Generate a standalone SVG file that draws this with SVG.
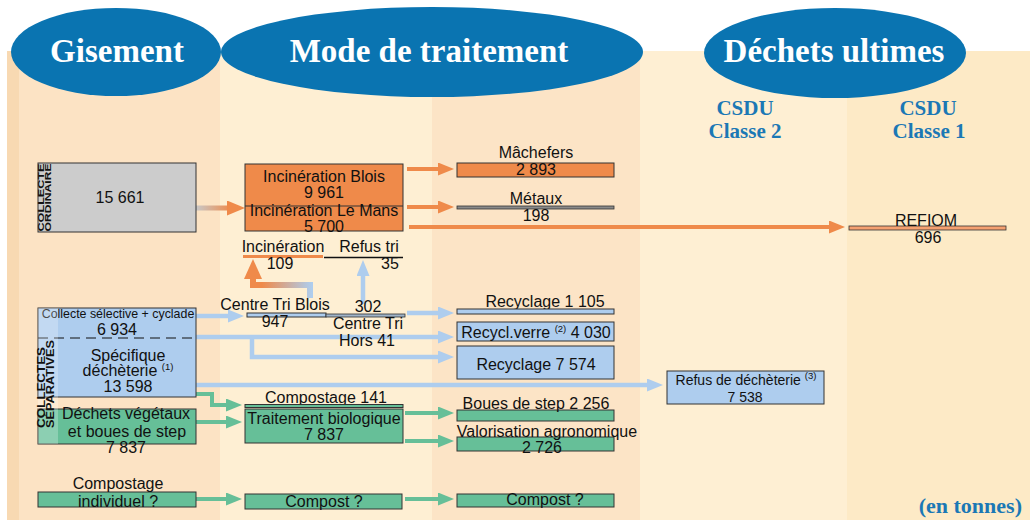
<svg xmlns="http://www.w3.org/2000/svg" width="1030" height="520" viewBox="0 0 1030 520">
<style>
.t{font-family:"Liberation Sans",Arial,sans-serif;font-size:16px;fill:#111;text-anchor:middle}
.s{font-size:9.5px}
.title{font-family:"Liberation Serif","Times New Roman",serif;font-weight:bold;font-size:33px;fill:#fff;text-anchor:middle}
.csdu{font-family:"Liberation Serif","Times New Roman",serif;font-weight:bold;font-size:21px;fill:#1b78b5;text-anchor:middle}
.vl{font-family:"Liberation Sans",Arial,sans-serif;font-weight:bold;fill:#111}
.bo{stroke:#333;stroke-width:1}
.or{fill:#ef8a4a}.bl{fill:#aecdee}.gr{fill:#66bf98}.gy{fill:#cccccc}
.co{fill:none;stroke:#ef8a4a;stroke-width:4}
.cb{fill:none;stroke:#aecdee;stroke-width:4.5}
.cg{fill:none;stroke:#66bf98;stroke-width:4}
</style>
<defs>
<marker id="mo" markerUnits="userSpaceOnUse" markerWidth="16" markerHeight="13" refX="1" refY="6.5" orient="auto"><path d="M0,0 L16,6.5 L0,13 Z" fill="#ef8a4a"/></marker>
<marker id="mo2" markerUnits="userSpaceOnUse" markerWidth="18" markerHeight="15" refX="1" refY="7.5" orient="auto"><path d="M0,0 L18,7.5 L0,15 Z" fill="#ef8a4a"/></marker>
<marker id="mo3" markerUnits="userSpaceOnUse" markerWidth="20" markerHeight="18" refX="1" refY="9" orient="auto"><path d="M0,0 L20,9 L0,18 Z" fill="#ef8a4a"/></marker>
<marker id="mb" markerUnits="userSpaceOnUse" markerWidth="16" markerHeight="13" refX="1" refY="6.5" orient="auto"><path d="M0,0 L16,6.5 L0,13 Z" fill="#aecdee"/></marker>
<marker id="mg" markerUnits="userSpaceOnUse" markerWidth="16" markerHeight="13" refX="1" refY="6.5" orient="auto"><path d="M0,0 L16,6.5 L0,13 Z" fill="#66bf98"/></marker>
<linearGradient id="gGO" gradientUnits="userSpaceOnUse" x1="196" y1="0" x2="232" y2="0"><stop offset="0" stop-color="#c8c8c8"/><stop offset="1" stop-color="#ef8a4a"/></linearGradient>
<linearGradient id="gOB" gradientUnits="userSpaceOnUse" x1="253" y1="0" x2="312" y2="0"><stop offset="0" stop-color="#ef8a4a"/><stop offset="0.15" stop-color="#ef8a4a"/><stop offset="1" stop-color="#aecdee"/></linearGradient>
</defs>

<g id="background">
<rect x="0" y="0" width="1030" height="520" fill="#ffffff"/>
<rect x="7" y="51" width="12" height="469" fill="#f8d9b2"/>
<rect x="19" y="51" width="201" height="469" fill="#fce3c4"/>
<rect x="220" y="51" width="212" height="469" fill="#feefd3"/>
<rect x="432" y="51" width="208" height="469" fill="#fce4c6"/>
<rect x="640" y="51" width="207" height="469" fill="#feefd3"/>
<rect x="847" y="51" width="183" height="469" fill="#fdeac6"/>
</g>

<g id="headers">
<ellipse cx="116" cy="52" rx="105" ry="44" fill="#0a74b1"/>
<ellipse cx="432" cy="52" rx="211" ry="45" fill="#0a74b1"/>
<ellipse cx="835" cy="53" rx="131" ry="45" fill="#0a74b1"/>
<text class="title" x="117" y="62">Gisement</text>
<text class="title" x="429" y="62">Mode de traitement</text>
<text class="title" x="834" y="62">Déchets ultimes</text>
<text class="csdu" x="745" y="115">CSDU</text>
<text class="csdu" x="745" y="138">Classe 2</text>
<text class="csdu" x="928" y="115">CSDU</text>
<text class="csdu" x="929" y="138">Classe 1</text>
<text class="csdu" x="1022" y="513" style="text-anchor:end;font-size:22px">(en tonnes)</text>
</g>

<g id="connectors">
<path d="M196,208 L228,208" fill="none" stroke="url(#gGO)" stroke-width="5" marker-end="url(#mo2)"/>
<path class="co" d="M407,169 L439,169" marker-end="url(#mo)"/>
<path class="co" d="M407,207 L439,207" marker-end="url(#mo)"/>
<path class="co" d="M409,227 L830,227" marker-end="url(#mo)"/>
<path class="cb" d="M196,316 L229,316" marker-end="url(#mb)"/>
<path d="M310,298 L310,285 L253,285 L253,278" fill="none" stroke="url(#gOB)" stroke-width="6" marker-end="url(#mo3)"/>
<path class="cb" d="M363,304 L363,275" stroke-width="5" marker-end="url(#mb)"/>
<path class="cb" d="M407,313 L439,313" marker-end="url(#mb)"/>
<path class="cb" d="M196,337 L439,337" marker-end="url(#mb)"/>
<path class="cb" d="M252,337 L252,357 L439,357" marker-end="url(#mb)"/>
<path class="cb" d="M196,385 L648,385" marker-end="url(#mb)"/>
<path class="cg" d="M196,394 L212,394 L212,405 L227,405" marker-end="url(#mg)"/>
<path class="cg" d="M196,422 L227,422" marker-end="url(#mg)"/>
<path class="cg" d="M405,413 L439,413" marker-end="url(#mg)"/>
<path class="cg" d="M405,441 L439,441" marker-end="url(#mg)"/>
<path class="cg" d="M196,499 L227,499" marker-end="url(#mg)"/>
<path class="cg" d="M405,499 L439,499" marker-end="url(#mg)"/>
</g>

<g id="collecte-ordinaire">
<rect class="gy bo" x="38" y="163" width="158" height="69"/>
<text class="vl" font-size="8.5" transform="translate(44,197.5) rotate(-90)" text-anchor="middle" textLength="68" lengthAdjust="spacingAndGlyphs">COLLECTE</text>
<text class="vl" font-size="8.5" transform="translate(50.5,197.5) rotate(-90)" text-anchor="middle" textLength="68" lengthAdjust="spacingAndGlyphs">ORDINAIRE</text>
<text class="t" x="120" y="203">15 661</text>
</g>

<g id="incineration">
<rect class="or bo" x="245" y="164" width="158" height="67"/>
<line x1="245" y1="206" x2="403" y2="206" stroke="#333" stroke-width="1"/>
<text class="t" x="324" y="182">Incinération Blois</text>
<text class="t" x="324" y="198">9 961</text>
<text class="t" x="324" y="216">Incinération Le Mans</text>
<text class="t" x="324" y="232">5 700</text>
</g>

<g id="machefers">
<text class="t" x="536" y="158">Mâchefers</text>
<rect class="or bo" x="457" y="163" width="157" height="14"/>
<text class="t" x="536" y="175">2 893</text>
</g>

<g id="metaux">
<text class="t" x="536" y="204">Métaux</text>
<rect x="457" y="206" width="157" height="3" fill="#8a8a8a" stroke="#333" stroke-width="0.8"/>
<text class="t" x="536" y="221">198</text>
</g>

<g id="refiom">
<rect x="849" y="226" width="157" height="4" fill="#f5a070" stroke="#333" stroke-width="0.8"/>
<text class="t" x="926" y="226">REFIOM</text>
<text class="t" x="928" y="243">696</text>
</g>

<g id="incineration-109">
<text class="t" x="283" y="252">Incinération</text>
<line x1="243" y1="256.5" x2="323" y2="256.5" stroke="#ef8a4a" stroke-width="3"/>
<text class="t" x="280" y="269">109</text>
</g>

<g id="refus-tri">
<text class="t" x="369" y="252">Refus tri</text>
<line x1="324" y1="257.5" x2="403" y2="257.5" stroke="#111" stroke-width="1.5"/>
<text class="t" x="390" y="269">35</text>
</g>

<g id="centre-tri-blois">
<text class="t" x="275" y="310">Centre Tri Blois</text>
<rect class="bl bo" x="247" y="313" width="79" height="4"/>
<text class="t" x="275" y="327">947</text>
</g>

<g id="centre-tri-hors">
<text class="t" x="368" y="312">302</text>
<rect x="326" y="314" width="79" height="3" fill="#9fb3c8" stroke="#333" stroke-width="0.8"/>
<text class="t" x="368" y="329">Centre Tri</text>
<text class="t" x="367" y="346">Hors 41</text>
</g>

<g id="collectes-separatives">
<rect class="bl bo" x="38" y="308" width="158" height="89"/>
<line x1="38" y1="338" x2="196" y2="338" stroke="#111" stroke-width="1" stroke-dasharray="10,6"/>
<text class="t" x="118" y="318" style="font-size:12.4px">Collecte sélective + cyclade</text>
<text class="t" x="117" y="335">6 934</text>
<text class="t" x="128" y="361">Spécifique</text>
<text class="t" x="128" y="376">déchèterie <tspan class="s" dy="-6">(1)</tspan></text>
<text class="t" x="128" y="392">13 598</text>
</g>

<g id="dechets-vegetaux">
<rect class="gr bo" x="38" y="409" width="158" height="35"/>
<text class="t" x="126" y="419">Déchets végétaux</text>
<text class="t" x="127" y="437">et boues de step</text>
<text class="t" x="126" y="453">7 837</text>
</g>

<g id="label-separatives">
<rect x="38" y="308" width="20" height="136" fill="#ffffff" fill-opacity="0.25"/>
<text class="vl" font-size="10.5" transform="translate(45,428) rotate(-90)" textLength="81" lengthAdjust="spacingAndGlyphs">COLLECTES</text>
<text class="vl" font-size="10.5" transform="translate(54,428) rotate(-90)" textLength="88" lengthAdjust="spacingAndGlyphs">SÉPARATIVES</text>
</g>

<g id="compostage-individuel">
<rect class="gr bo" x="38" y="492" width="158" height="15"/>
<text class="t" x="118" y="489">Compostage</text>
<text class="t" x="118" y="507">individuel ?</text>
</g>

<g id="recyclage-1105">
<text class="t" x="545" y="307">Recyclage 1 105</text>
<rect class="bl bo" x="457" y="309" width="157" height="5"/>
</g>

<g id="recyclage-verre">
<rect class="bl bo" x="457" y="322" width="157" height="19"/>
<text class="t" x="536" y="338">Recycl.verre <tspan class="s" dy="-6">(2)</tspan><tspan dy="6"> 4 030</tspan></text>
</g>

<g id="recyclage-7574">
<rect class="bl bo" x="457" y="346" width="157" height="33"/>
<text class="t" x="536" y="370">Recyclage 7 574</text>
</g>

<g id="refus-decheterie">
<rect class="bl bo" x="667" y="371" width="157" height="33"/>
<text class="t" x="746" y="385" style="font-size:14px">Refus de déchèterie <tspan class="s" dy="-6">(3)</tspan></text>
<text class="t" x="745" y="402" style="font-size:14px">7 538</text>
</g>

<g id="compostage-141">
<text class="t" x="326" y="403">Compostage 141</text>
<rect class="gr bo" x="245" y="404.5" width="158" height="3"/>
</g>

<g id="traitement-biologique">
<rect class="gr bo" x="245" y="409" width="158" height="34"/>
<text class="t" x="324" y="424">Traitement biologique</text>
<text class="t" x="324" y="440">7 837</text>
</g>

<g id="boues-step">
<rect class="gr bo" x="457" y="410" width="157" height="11"/>
<text class="t" x="536" y="409">Boues de step 2 256</text>
</g>

<g id="valorisation">
<rect class="gr bo" x="457" y="437" width="157" height="14"/>
<text class="t" x="547" y="437">Valorisation agronomique</text>
<text class="t" x="542" y="453">2 726</text>
</g>

<g id="compost-1">
<rect class="gr bo" x="245" y="494" width="157" height="15"/>
<text class="t" x="324" y="507">Compost ?</text>
</g>

<g id="compost-2">
<rect class="gr bo" x="457" y="494" width="157" height="13"/>
<text class="t" x="545" y="505">Compost ?</text>
</g>
</svg>
